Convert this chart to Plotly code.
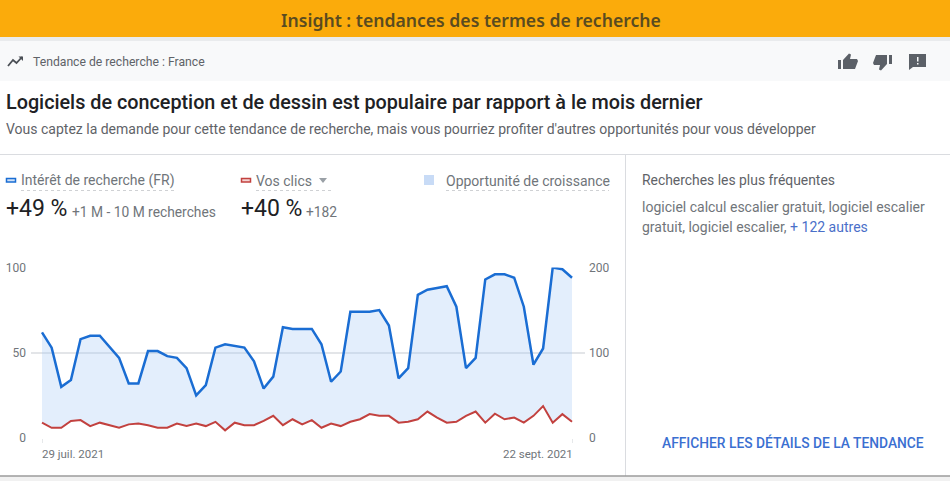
import pandas as pd
import plotly.graph_objects as go

W, H = 950, 481

START_DATE = "2021-07-29"
END_DATE = "2021-09-22"
interet = [62, 53, 30, 34, 58, 60, 60, 53.5, 47, 32, 32, 51, 51, 48, 47, 41, 25, 31, 53, 55, 54, 53, 45, 29, 36, 65, 64, 64,
           64, 55, 33, 39, 74, 74, 74, 75, 66, 35, 41, 84, 87, 88, 89, 77, 41, 47, 93, 96, 96, 94, 77, 43, 52.5, 100, 99, 94]
clics = [18, 12, 12, 20, 21, 14, 18, 15, 12, 16, 17, 15, 12, 12, 17, 14, 17, 14, 19, 9, 18, 15, 15, 20, 26, 15, 22, 16,
         21, 12, 17, 14, 19, 22, 28, 26, 26, 18, 19, 22, 31, 24, 18, 19, 26, 31, 18, 28.5, 22, 24, 18, 26, 37.5, 18, 28, 19]
left_ticks = [0, 50, 100]
right_ticks = [0, 100, 200]

dates = pd.date_range(START_DATE, END_DATE, freq="D")
GRID = "#e3e5e8"
GREY = "#70757a"
DARK = "#5f6368"
BLUE = "#1a6dd3"
RED = "#c2413f"
FONT = "Roboto"


def px(x):
    return x / W


def py(y):
    return 1 - y / H


def rect(x0, y0, x1, y1, color, layer="below"):
    return dict(type="rect", xref="paper", yref="paper", x0=px(x0), x1=px(x1), y0=py(y0), y1=py(y1),
                fillcolor=color, line=dict(width=0), layer=layer)


def hline(x0, x1, y, color, width=1, dash="solid"):
    return dict(type="line", xref="paper", yref="paper", x0=px(x0), x1=px(x1), y0=py(y), y1=py(y),
                line=dict(color=color, width=width, dash=dash), layer="below")


def poly(points, color=None, line=None, width=2):
    path = "M " + " L ".join(f"{px(a):.5f},{py(b):.5f}" for a, b in points)
    d = dict(type="path", xref="paper", yref="paper", path=path + (" Z" if color else ""), layer="above")
    if color:
        d.update(fillcolor=color, line=dict(width=0))
    else:
        d.update(line=dict(color=line, width=width))
    return d


def text(x, y, s, size, color=DARK, anchor="left", weight=400, family=FONT):
    return dict(xref="paper", yref="paper", x=px(x), y=py(y), text=s, showarrow=False, xanchor=anchor, yanchor="middle",
                font=dict(family=family, size=size, color=color, weight=weight), align="left",
                xshift=0, yshift=0, borderpad=0, borderwidth=0)


ICON = "#5b6067"
shapes = [
    rect(0, 0, W, 37, "#fbab0b"),
    rect(0, 37, W, 41, "#e9ebed"),
    rect(0, 41, W, 81, "#f8f9fa"),
    hline(0, W, 154.5, "#dadce0"),
    dict(type="line", xref="paper", yref="paper", x0=px(625.5), x1=px(625.5), y0=py(154), y1=py(476),
         line=dict(color="#dadce0", width=1), layer="below"),
    rect(0, 476, W, 481, "#f1f1f1"),
    hline(0, W, 476, "#9b9b9b", 1.5),
    # legend keys
    dict(type="rect", xref="paper", yref="paper", x0=px(6.5), x1=px(15.5), y0=py(182), y1=py(178.5),
         fillcolor="#cfe0f7", line=dict(color=BLUE, width=1.5), layer="above"),
    dict(type="rect", xref="paper", yref="paper", x0=px(241.5), x1=px(250.5), y0=py(182), y1=py(178.5),
         fillcolor="#f4d3d2", line=dict(color=RED, width=1.5), layer="above"),
    rect(424, 175, 434, 185, "#c8dbf6"),
    hline(21, 174, 190.5, "#cfd1d4", 1, "dot"),
    hline(256, 334, 190.5, "#cfd1d4", 1, "dot"),
    hline(446, 609, 190.5, "#cfd1d4", 1, "dot"),
    poly([(319, 178), (327, 178), (323, 183)], "#9aa0a6"),
    # trending-up icon
    poly([(8, 66), (13, 60), (16.5, 63), (22, 57)], line="#4a4f55", width=1.8),
    poly([(18.5, 56.5), (23, 56.5), (23, 61)], "#4a4f55"),
    # thumbs up
    poly([(838, 60), (841, 60), (841, 69), (838, 69)], ICON),
    poly([(843, 60), (849, 53.5), (851, 54.5), (850, 59), (857, 59), (858, 61), (855, 69), (843, 69)], ICON),
    # thumbs down
    poly([(889, 55), (892, 55), (892, 64), (889, 64)], ICON),
    poly([(887, 64), (881, 70.5), (879, 69.5), (880, 65), (874, 65), (873, 63), (876, 55), (887, 55)], ICON),
    # comment alert
    poly([(909, 54), (926, 54), (926, 67), (913, 67), (909, 70)], ICON),
    rect(917, 57, 918.5, 61.5, "#f8f9fa", "above"),
    rect(917, 63, 918.5, 64.5, "#f8f9fa", "above"),
]

annotations = [
    text(471, 19.5, "Insight : tendances des termes de recherche", 17.6, "#5a4b20", "center", 600, "Noto Sans"),
    text(33, 62, "Tendance de recherche : France", 12.2, DARK),
    text(6, 102, "Logiciels de conception et de dessin est populaire par rapport à le mois dernier", 19.8, "#202124", "left", 500),
    text(6, 129.5, "Vous captez la demande pour cette tendance de recherche, mais vous pourriez profiter d'autres opportunités pour vous développer", 14, DARK),
    text(21, 180.5, "Intérêt de recherche (FR)", 14, GREY),
    text(256, 180.5, "Vos clics", 14, GREY),
    text(446, 180.5, "Opportunité de croissance", 14, GREY),
    text(6, 208, "+49 %", 23, "#202124"),
    text(72, 212, "+1 M - 10 M recherches", 13.8, GREY),
    text(241, 208, "+40 %", 23, "#202124"),
    text(306, 212, "+182", 13.8, GREY),
    text(642, 180, "Recherches les plus fréquentes", 13.9, DARK),
    text(642, 207, "logiciel calcul escalier gratuit, logiciel escalier", 14, GREY),
    text(642, 227, 'gratuit, logiciel escalier, <span style="color:#4a6fc9">+ 122 autres</span>', 14, GREY),
    text(662, 442, "AFFICHER LES DÉTAILS DE LA TENDANCE", 13.8, "#3b6fd1", "left", 500),
    dict(xref="x", yref="paper", x=START_DATE, y=py(454), text="29 juil. 2021", showarrow=False, xanchor="left",
         xshift=-2, yanchor="middle", font=dict(family=FONT, size=11.5, color=GREY)),
    dict(xref="x", yref="paper", x=END_DATE, y=py(454), text="22 sept. 2021", showarrow=False, xanchor="right",
         xshift=3, yanchor="middle", font=dict(family=FONT, size=11.5, color=GREY)),
]

fig = go.Figure()
# invisible lower edge of the opportunity area: the clicks, on the left-axis scale
fig.add_trace(go.Scatter(x=dates, y=[c / 2 for c in clics], mode="lines", line=dict(width=0), showlegend=False,
                         hoverinfo="skip", cliponaxis=False))
fig.add_trace(go.Scatter(x=dates, y=interet, mode="lines", name="Intérêt de recherche (FR)", fill="tonexty",
                         fillcolor="rgba(162,198,245,0.3)", line=dict(color=BLUE, width=2.5), cliponaxis=False))
fig.add_trace(go.Scatter(x=dates, y=clics, mode="lines", name="Vos clics", yaxis="y2",
                         line=dict(color=RED, width=2), cliponaxis=False))

day_px = 530 / 55
fig.update_layout(
    width=W, height=H, margin=dict(l=0, r=0, t=0, b=0, pad=0), autosize=False,
    paper_bgcolor="white", plot_bgcolor="rgba(0,0,0,0)", showlegend=False,
    font=dict(family=FONT),
    shapes=shapes, annotations=annotations,
    xaxis=dict(domain=[px(31), px(585)], type="date", automargin=False,
               range=[pd.Timestamp(START_DATE) - pd.Timedelta(days=11 / day_px),
                      pd.Timestamp(END_DATE) + pd.Timedelta(days=13 / day_px)],
               showgrid=False, zeroline=False, showline=False,
               tickvals=[START_DATE, END_DATE], ticktext=["", ""], ticks="outside", ticklen=4,
               tickcolor="#e6e8ea", tickwidth=1),
    yaxis=dict(domain=[py(438), py(267.5)], range=[0, 100], tickvals=left_ticks, gridcolor=GRID, gridwidth=1.5,
               automargin=False, zeroline=False, showline=False,
               tickfont=dict(family=FONT, size=12, color=GREY), ticklabelstandoff=4),
    yaxis2=dict(overlaying="y", side="right", range=[0, 200], tickvals=right_ticks, showgrid=False, zeroline=False,
                automargin=False, showline=False, tickfont=dict(family=FONT, size=12, color=GREY),
                ticklabelstandoff=3, anchor="x"),
)

fig.write_html("out.html", config={"displayModeBar": False}, post_script="document.body.style.margin='0';")
